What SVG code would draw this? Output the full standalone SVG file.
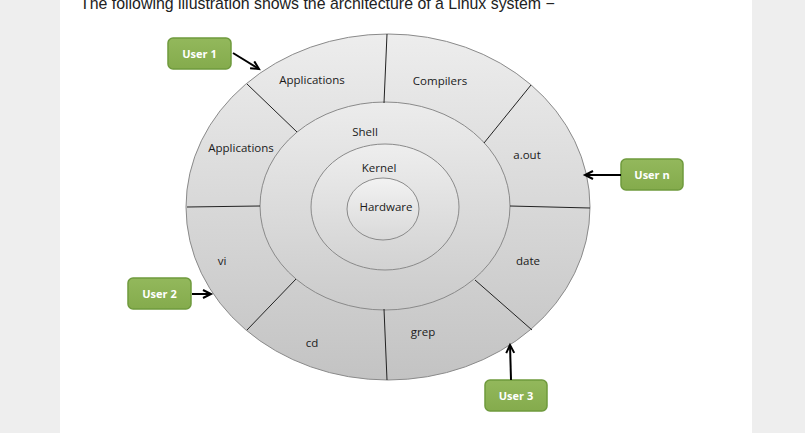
<svg xmlns="http://www.w3.org/2000/svg" width="805" height="433" viewBox="0 0 805 433">
<style>
.lbl{font-family:"Open Sans","DejaVu Sans",sans-serif;font-size:11.5px;fill:#1a1a1a;text-anchor:middle}
.usr{font-family:"Open Sans","DejaVu Sans",sans-serif;font-size:11px;font-weight:bold;fill:#fff;text-anchor:middle}
.box{fill:url(#gg);stroke:#6f9a3d;stroke-width:1.5}
.ring{stroke:#8a8a8a;stroke-width:1}
.div{stroke:#222;stroke-width:1}
.arr{stroke:#000;stroke-width:2;fill:none;marker-end:url(#ah)}
</style>
<defs>
<linearGradient id="g1" x1="0" y1="0" x2="0" y2="1"><stop offset="0" stop-color="#ededed"/><stop offset="1" stop-color="#c3c3c3"/></linearGradient>
<linearGradient id="g2" x1="0" y1="0" x2="0" y2="1"><stop offset="0" stop-color="#ececec"/><stop offset="1" stop-color="#cbcbcb"/></linearGradient>
<linearGradient id="g3" x1="0" y1="0" x2="0" y2="1"><stop offset="0" stop-color="#eeeeee"/><stop offset="1" stop-color="#d2d2d2"/></linearGradient>
<linearGradient id="g4" x1="0" y1="0" x2="0" y2="1"><stop offset="0" stop-color="#f2f2f2"/><stop offset="1" stop-color="#d9d9d9"/></linearGradient>
<linearGradient id="gg" x1="0" y1="0" x2="0" y2="1"><stop offset="0" stop-color="#93b85c"/><stop offset="1" stop-color="#84ab4c"/></linearGradient>
<marker id="ah" markerUnits="userSpaceOnUse" markerWidth="12" markerHeight="12" refX="9" refY="5" orient="auto"><path d="M1,1 L9,5 L1,9" fill="none" stroke="#000" stroke-width="2"/></marker>
</defs>
<rect x="0" y="0" width="805" height="433" fill="#eeeeee"/>
<rect x="60" y="0" width="692" height="433" fill="#ffffff"/>
<text x="80" y="9" font-family="Liberation Sans, Arial, sans-serif" font-size="15.9" fill="#222">The following illustration shows the architecture of a Linux system −</text>

<g id="outer"><ellipse class="ring" cx="388" cy="207" rx="202" ry="173" fill="url(#g1)"/></g>
<g id="shell"><ellipse class="ring" cx="385" cy="206" rx="125" ry="104" fill="url(#g2)"/></g>
<g id="kernel"><ellipse class="ring" cx="385" cy="207" rx="74" ry="63" fill="url(#g3)"/></g>
<g id="hardware"><ellipse class="ring" cx="383" cy="209" rx="36" ry="31" fill="url(#g4)"/></g>

<g id="dividers">
<line class="div" x1="387" y1="34" x2="384" y2="103"/>
<line class="div" x1="247" y1="84" x2="297" y2="132"/>
<line class="div" x1="531" y1="85" x2="484" y2="143"/>
<line class="div" x1="187" y1="207" x2="260" y2="206"/>
<line class="div" x1="510" y1="206" x2="590" y2="208"/>
<line class="div" x1="296" y1="279" x2="247" y2="330"/>
<line class="div" x1="475" y1="280" x2="532" y2="330"/>
<line class="div" x1="384" y1="309" x2="387" y2="380"/>
</g>

<g id="labels">
<text class="lbl" x="312" y="84">Applications</text>
<text class="lbl" x="440" y="85">Compilers</text>
<text class="lbl" x="241" y="152">Applications</text>
<text class="lbl" x="365" y="136">Shell</text>
<text class="lbl" x="379" y="172">Kernel</text>
<text class="lbl" x="386" y="211">Hardware</text>
<text class="lbl" x="527" y="159">a.out</text>
<text class="lbl" x="528" y="265">date</text>
<text class="lbl" x="222" y="265">vi</text>
<text class="lbl" x="312" y="347">cd</text>
<text class="lbl" x="423" y="336">grep</text>
</g>

<g id="user1"><rect class="box" x="168" y="38" width="63" height="31" rx="5"/><text class="usr" x="199.5" y="58">User 1</text></g>
<g id="usern"><rect class="box" x="621" y="159" width="62" height="31" rx="5"/><text class="usr" x="652" y="179">User n</text></g>
<g id="user2"><rect class="box" x="128" y="278" width="63" height="31" rx="5"/><text class="usr" x="159.5" y="298">User 2</text></g>
<g id="user3"><rect class="box" x="485" y="380" width="62" height="31" rx="5"/><text class="usr" x="516" y="400">User 3</text></g>

<g id="connectors">
<line class="arr" x1="233" y1="53" x2="259" y2="69"/>
<line class="arr" x1="621" y1="175" x2="585" y2="175"/>
<line class="arr" x1="192" y1="294" x2="211" y2="294"/>
<line class="arr" x1="511" y1="380" x2="510" y2="345"/>
</g>
</svg>
